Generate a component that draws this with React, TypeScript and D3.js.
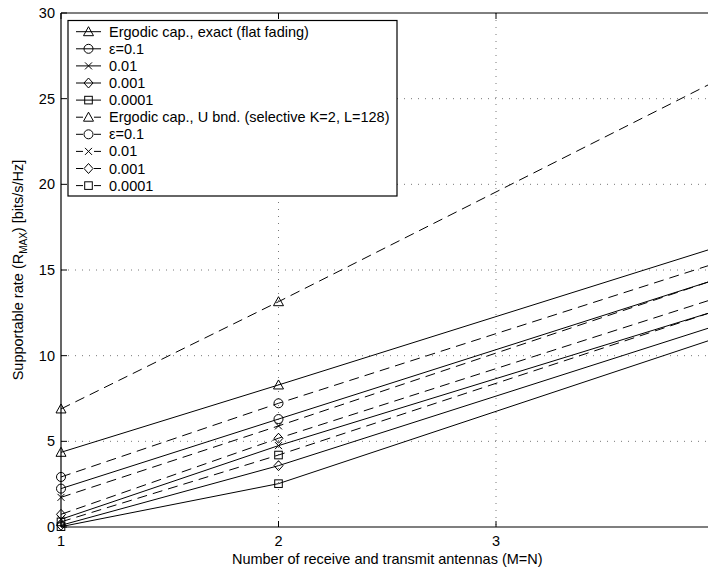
import React from "react";
import * as d3 from "d3";

const W = 708;
const H = 569;

// x values (number of antennas M=N)
const xVals = [1, 2, 4];
const markerXs = [1, 2];

// Flat fading (solid)
const flatErgodic = [4.36, 8.29, 16.27];
const flatE1 = [2.24, 6.3, 14.4];
const flatE2 = [0.45, 4.75, 12.57];
const flatE3 = [0.1, 3.58, 11.7];
const flatE4 = [0.02, 2.53, 10.97];

// Selective K=2, L=128 (dashed)
const selErgodic = [6.89, 13.15, 25.96];
const selE1 = [2.92, 7.22, 15.35];
const selE2 = [1.73, 5.9, 14.4];
const selE3 = [0.74, 5.18, 13.31];
const selE4 = [0.3, 4.2, 12.57];

const xTicks = [1, 2, 3];
const yTicks = [0, 5, 10, 15, 20, 25, 30];

type Marker = "tri" | "circ" | "x" | "diam" | "sq";

const series: { label: string; values: number[]; marker: Marker; dashed: boolean }[] = [
  { label: "Ergodic cap., exact (flat fading)", values: flatErgodic, marker: "tri", dashed: false },
  { label: "ε=0.1", values: flatE1, marker: "circ", dashed: false },
  { label: "0.01", values: flatE2, marker: "x", dashed: false },
  { label: "0.001", values: flatE3, marker: "diam", dashed: false },
  { label: "0.0001", values: flatE4, marker: "sq", dashed: false },
  { label: "Ergodic cap., U bnd. (selective K=2, L=128)", values: selErgodic, marker: "tri", dashed: true },
  { label: "ε=0.1", values: selE1, marker: "circ", dashed: true },
  { label: "0.01", values: selE2, marker: "x", dashed: true },
  { label: "0.001", values: selE3, marker: "diam", dashed: true },
  { label: "0.0001", values: selE4, marker: "sq", dashed: true },
];

const FONT = "'Liberation Sans', Arial, Helvetica, sans-serif";
const FS = 14.5;

function MarkerShape({ type, x, y }: { type: Marker; x: number; y: number }) {
  const common = { fill: "none", stroke: "#000", strokeWidth: 1 };
  switch (type) {
    case "tri":
      return <path d={`M${x - 5},${y + 4} L${x},${y - 5} L${x + 5},${y + 4} Z`} {...common} />;
    case "circ":
      return <circle cx={x} cy={y} r={4.5} {...common} />;
    case "x":
      return <path d={`M${x - 3.5},${y - 3.5} L${x + 3.5},${y + 3.5} M${x - 3.5},${y + 3.5} L${x + 3.5},${y - 3.5}`} {...common} />;
    case "diam":
      return <path d={`M${x},${y - 5} L${x + 4.5},${y} L${x},${y + 5} L${x - 4.5},${y} Z`} {...common} />;
    case "sq":
      return <rect x={x - 3.8} y={y - 3.8} width={7.6} height={7.6} {...common} />;
  }
}

export default function App() {
  const left = 61;
  const right = 713.5;
  const top = 13;
  const bottom = 527;
  const x = d3.scaleLinear().domain([1, 4]).range([left, right]);
  const y = d3.scaleLinear().domain([0, 30]).range([bottom, top]);
  const line = d3
    .line<[number, number]>()
    .x((d) => x(d[0]))
    .y((d) => y(d[1]));

  const legX = 68;
  const legY = 20.5;
  const legW = 329;
  const legH = 175.5;
  const rowH = 17.1;
  const row0 = 31.7;

  return (
    <svg
      width={W}
      height={H}
      style={{ position: "absolute", left: 0, top: 0, background: "#fff" }}
      fontFamily={FONT}
    >
      <rect x={0} y={0} width={W} height={H} fill="#fff" />
      {/* grid */}
      {xTicks
        .filter((t) => t !== 1)
        .map((t) => (
          <line key={"gx" + t} x1={x(t)} x2={x(t)} y1={top} y2={bottom} stroke="#555" strokeWidth={0.8} strokeDasharray="1,6" />
        ))}
      {yTicks
        .filter((t) => t !== 0 && t !== 30)
        .map((t) => (
          <line key={"gy" + t} x1={left} x2={right} y1={y(t)} y2={y(t)} stroke="#555" strokeWidth={0.8} strokeDasharray="1,6" />
        ))}
      {/* series */}
      {series.map((s, i) => {
        const pts: [number, number][] = xVals.map((xv, j) => [xv, s.values[j]]);
        return (
          <g key={"s" + i}>
            <path d={line(pts) || ""} fill="none" stroke="#000" strokeWidth={1} strokeDasharray={s.dashed ? "10,6" : undefined} />
            {pts
              .filter((p) => markerXs.includes(p[0]))
              .map((p, j) => (
                <MarkerShape key={j} type={s.marker} x={x(p[0])} y={y(p[1])} />
              ))}
          </g>
        );
      })}
      {/* axes box */}
      <line x1={left} x2={right} y1={top} y2={top} stroke="#000" strokeWidth={1} />
      <line x1={left} x2={right} y1={bottom} y2={bottom} stroke="#000" strokeWidth={1.2} />
      <line x1={left} x2={left} y1={top} y2={bottom} stroke="#000" strokeWidth={1.2} />
      <line x1={right} x2={right} y1={top} y2={bottom} stroke="#000" strokeWidth={1} />
      {/* ticks */}
      {xTicks.map((t) => (
        <g key={"tx" + t}>
          <line x1={x(t)} x2={x(t)} y1={bottom} y2={bottom - 6} stroke="#000" />
          <line x1={x(t)} x2={x(t)} y1={top} y2={top + 6} stroke="#000" />
          <text x={x(t)} y={546} fontSize={FS} textAnchor="middle">
            {t}
          </text>
        </g>
      ))}
      {yTicks.map((t) => (
        <g key={"ty" + t}>
          <line x1={left} x2={left + 6} y1={y(t)} y2={y(t)} stroke="#000" />
          <text x={55} y={y(t) + 5} fontSize={FS} textAnchor="end">
            {t}
          </text>
        </g>
      ))}
      {/* axis labels */}
      <text x={(left + right) / 2} y={563.5} fontSize={FS} textAnchor="middle">
        Number of receive and transmit antennas (M=N)
      </text>
      <text transform={`translate(23,${(top + bottom) / 2}) rotate(-90)`} fontSize={FS} textAnchor="middle">
        Supportable rate (R
        <tspan fontSize={10} dy={4}>MAX</tspan>
        <tspan dy={-4}>) [bits/s/Hz]</tspan>
      </text>
      {/* legend */}
      <rect x={legX} y={legY} width={legW} height={legH} fill="#fff" stroke="#000" strokeWidth={1.2} />
      {series.map((s, i) => {
        const cy = row0 + i * rowH;
        return (
          <g key={"l" + i}>
            <line x1={76} x2={101} y1={cy} y2={cy} stroke="#000" strokeWidth={1} strokeDasharray={s.dashed ? "7,11" : undefined} />
            <MarkerShape type={s.marker} x={88.5} y={cy} />
            <text x={109} y={cy + 5} fontSize={FS}>
              {s.label}
            </text>
          </g>
        );
      })}
    </svg>
  );
}
